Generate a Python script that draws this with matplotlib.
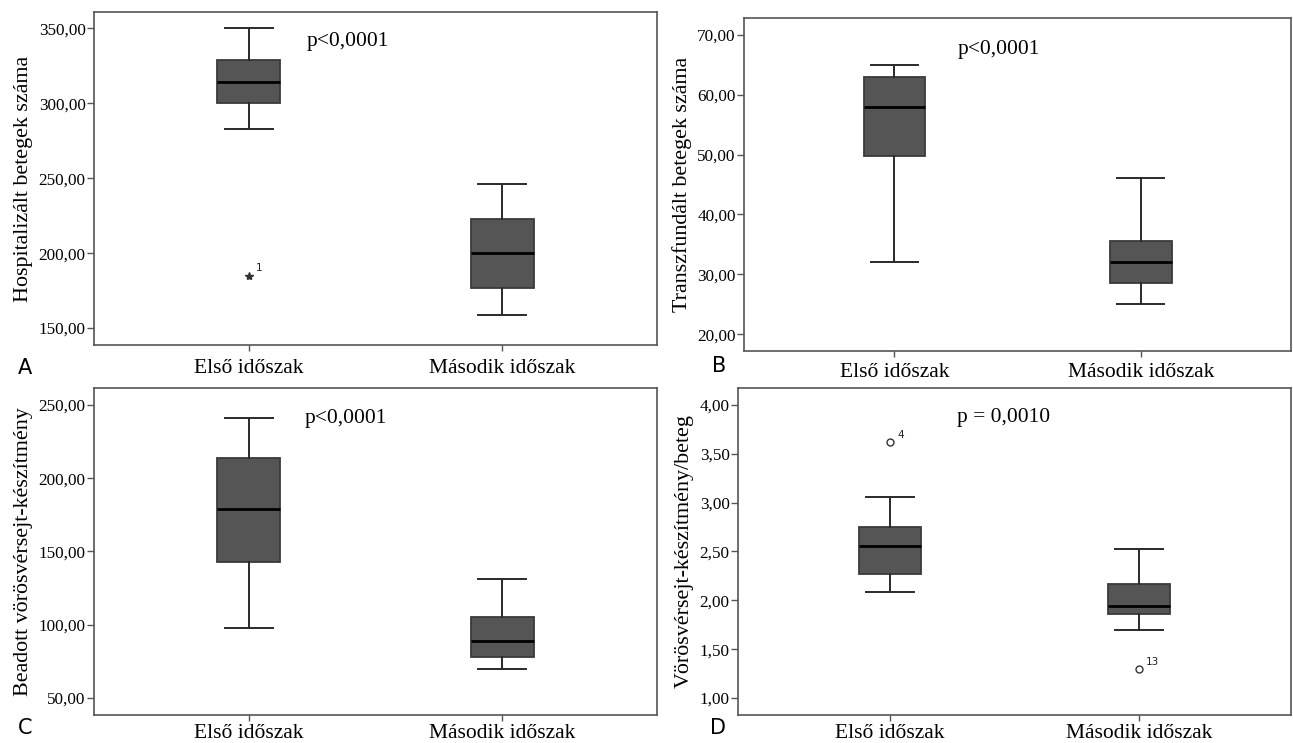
import matplotlib.pyplot as plt

plt.rcParams['font.family'] = ['Liberation Serif', 'DejaVu Serif']

categories = ['Első időszak', 'Második időszak']

# whislo, q1, med, q3, whishi per category
hosp_stats = [[283, 300, 314, 328.7, 350], [158.7, 177, 200, 222.7, 246]]
hosp_fliers = [[185], []]
hosp_flier_ids = [['1'], []]

transz_stats = [[32, 49.7, 58, 63, 65], [25, 28.5, 32, 35.5, 46]]
transz_fliers = [[], []]
transz_flier_ids = [[], []]

beadott_stats = [[98, 143, 179, 213.6, 241], [69.6, 78, 88.6, 105, 131]]
beadott_fliers = [[], []]
beadott_flier_ids = [[], []]

perbeteg_stats = [[2.09, 2.27, 2.56, 2.755, 3.06], [1.70, 1.86, 1.94, 2.17, 2.53]]
perbeteg_fliers = [[3.62], [1.30]]
perbeteg_flier_ids = [['4'], ['13']]

panels = [
    dict(rect=[0.0727, 0.5357, 0.4354, 0.4482], stats=hosp_stats, fliers=hosp_fliers,
         ids=hosp_flier_ids, marker='*', ylim=(138.7, 361), ticks=[150, 200, 250, 300, 350],
         ylabel='Hospitalizált betegek száma', p='p<0,0001', ptxt=(0.378, 0.91),
         letter='A', lpos=(25, 368), xpad=6),
    dict(rect=[0.5754, 0.5276, 0.4231, 0.4482], stats=transz_stats, fliers=transz_fliers,
         ids=transz_flier_ids, marker='o', ylim=(17.2, 72.8), ticks=[20, 30, 40, 50, 60, 70],
         ylabel='Transzfundált betegek száma', p='p<0,0001', ptxt=(0.391, 0.904),
         letter='B', lpos=(719, 366), xpad=5),
    dict(rect=[0.0727, 0.0377, 0.4354, 0.4401], stats=beadott_stats, fliers=beadott_fliers,
         ids=beadott_flier_ids, marker='o', ylim=(38.4, 261.6), ticks=[50, 100, 150, 200, 250],
         ylabel='Beadott vörösvérsejt-készítmény', p='p<0,0001', ptxt=(0.375, 0.908),
         letter='C', lpos=(25, 728), xpad=2.5),
    dict(rect=[0.5708, 0.0377, 0.4277, 0.4401], stats=perbeteg_stats, fliers=perbeteg_fliers,
         ids=perbeteg_flier_ids, marker='o', ylim=(0.826, 4.174),
         ticks=[1.0, 1.5, 2.0, 2.5, 3.0, 3.5, 4.0],
         ylabel='Vörösvérsejt-készítmény/beteg', p='p = 0,0010', ptxt=(0.396, 0.911),
         letter='D', lpos=(718, 728), xpad=2.5),
]

W, H = 1293, 743
fig = plt.figure(figsize=(W / 100, H / 100), dpi=100)

for pn in panels:
    ax = fig.add_axes(pn['rect'])
    bxp_stats = []
    for s, fl in zip(pn['stats'], pn['fliers']):
        bxp_stats.append(dict(whislo=s[0], q1=s[1], med=s[2], q3=s[3], whishi=s[4], fliers=fl))
    ax.bxp(bxp_stats, positions=[1, 2], widths=0.25, patch_artist=True,
           boxprops=dict(facecolor='#555555', edgecolor='#3a3a3a', linewidth=1.3),
           medianprops=dict(color='black', linewidth=2),
           whiskerprops=dict(color='#2a2a2a', linewidth=1.4),
           capprops=dict(color='#2a2a2a', linewidth=1.4),
           capwidths=0.19,
           flierprops=dict(marker=pn['marker'], markersize=6 if pn['marker'] == '*' else 5,
                           markerfacecolor='none' if pn['marker'] == 'o' else '#333333',
                           markeredgecolor='#333333', markeredgewidth=1.0))
    for i, (fl, ids) in enumerate(zip(pn['fliers'], pn['ids'])):
        for v, lab in zip(fl, ids):
            ax.annotate(lab, xy=(i + 1, v), xytext=(5, 3), textcoords='offset points',
                        fontsize=7.5, family='DejaVu Sans', color='#222222')
    ax.set_xlim(0.39, 2.61)
    ax.set_ylim(*pn['ylim'])
    ax.set_yticks(pn['ticks'])
    ax.set_yticklabels([f'{t:.2f}'.replace('.', ',') for t in pn['ticks']], fontsize=12.3)
    ax.set_xticks([1, 2])
    ax.set_xticklabels(categories, fontsize=15.5)
    ax.tick_params(axis='y', length=5, width=1, color='#555555', pad=1)
    ax.tick_params(axis='x', length=4, width=1, color='#555555', pad=pn['xpad'])
    for sp in ax.spines.values():
        sp.set_color('#555555')
        sp.set_linewidth(1.2)
    ax.set_ylabel(pn['ylabel'], fontsize=15.8, labelpad=4)
    ax.text(pn['ptxt'][0], pn['ptxt'][1], pn['p'], transform=ax.transAxes,
            fontsize=15.5, va='center', ha='left')
    fig.text(pn['lpos'][0] / W, 1 - pn['lpos'][1] / H, pn['letter'], fontsize=15,
             family='DejaVu Sans', ha='center', va='center')

fig.savefig('out.png', dpi=100)
